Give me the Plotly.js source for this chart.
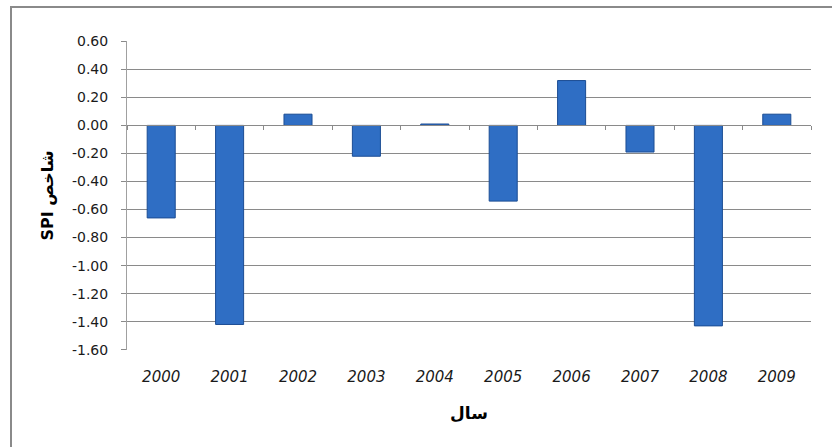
<!DOCTYPE html>
<html>
<head>
<meta charset="utf-8">
<script src="https://cdn.plot.ly/plotly-3.0.1.min.js"></script>
<style>
html,body{margin:0;padding:0;background:#fff;width:832px;height:447px;overflow:hidden;}
#frame{position:absolute;left:10px;top:6px;width:830px;height:450px;border-top:2px solid #8a8a8a;border-left:2px solid #8a8a8a;box-sizing:border-box;}
#chart{position:absolute;left:0;top:0;width:832px;height:447px;}
#chart .ytitle{direction:rtl;unicode-bidi:embed;}
</style>
</head>
<body>
<div id="frame"></div>
<div id="chart"></div>
<script>
const years = ['2000','2001','2002','2003','2004','2005','2006','2007','2008','2009'];
const spi = [-0.66, -1.42, 0.08, -0.22, 0.01, -0.54, 0.32, -0.19, -1.43, 0.08];
const yTicks = [0.6,0.4,0.2,0,-0.2,-0.4,-0.6,-0.8,-1.0,-1.2,-1.4,-1.6];
const xTitle = 'سال';
const yTitle = 'شاخص SPI';
const yMin = -1.6, yMax = 0.6;

const idx = years.map((_, i) => i);
const boundaries = years.map((_, i) => i - 0.5).concat([years.length - 0.5]);

const traces = [
  {
    type: 'bar', x: idx, y: spi,
    marker: {color: '#2f6ec4', line: {color: '#1c4d94', width: 1}},
    hoverinfo: 'x+y'
  },
  {
    type: 'scatter', x: [], y: [], xaxis: 'x2', yaxis: 'y', mode: 'lines',
    showlegend: false, hoverinfo: 'skip'
  }
];

const layout = {
  width: 832, height: 447,
  margin: {l: 127, r: 21, t: 41, b: 97},
  paper_bgcolor: 'rgba(0,0,0,0)',
  plot_bgcolor: '#ffffff',
  showlegend: false,
  bargap: 0.59,
  xaxis: {
    range: [-0.5, years.length - 0.5],
    tickvals: idx, ticktext: years,
    ticks: '', showgrid: false, zeroline: false, showline: false,
    ticklabelstandoff: 16,
    tickfont: {family: 'DejaVu Sans', size: 15, color: '#1a1a1a', style: 'italic'},
    title: {text: '<b>' + xTitle + '</b>', font: {family: 'DejaVu Sans', size: 17, color: '#000'}, standoff: 22}
  },
  xaxis2: {
    overlaying: 'x', anchor: 'free',
    position: (0 - yMin) / (yMax - yMin),
    range: [-0.5, years.length - 0.5],
    tickvals: boundaries, showticklabels: false,
    ticks: 'outside', ticklen: 4, tickcolor: '#8a8a8a', tickwidth: 1,
    showline: true, linecolor: '#8a8a8a', linewidth: 1,
    showgrid: false, zeroline: false, side: 'bottom'
  },
  yaxis: {
    range: [yMin - 0.002, yMax + 0.002],
    tickvals: yTicks, ticktext: yTicks.map(v => v.toFixed(2)),
    ticks: 'outside', ticklen: 5, tickcolor: '#8a8a8a',
    ticklabelstandoff: 10,
    showline: true, linecolor: '#a0a0a0', linewidth: 1,
    showgrid: true, gridcolor: '#8a8a8a', gridwidth: 1,
    zeroline: false,
    tickfont: {family: 'DejaVu Sans', size: 14, color: '#1a1a1a'},
    title: {text: '<b>' + yTitle + '</b>', font: {family: 'DejaVu Sans', size: 16, color: '#000'}, standoff: 14}
  }
};

Plotly.newPlot('chart', traces, layout, {displayModeBar: false, staticPlot: true});
</script>
</body>
</html>
